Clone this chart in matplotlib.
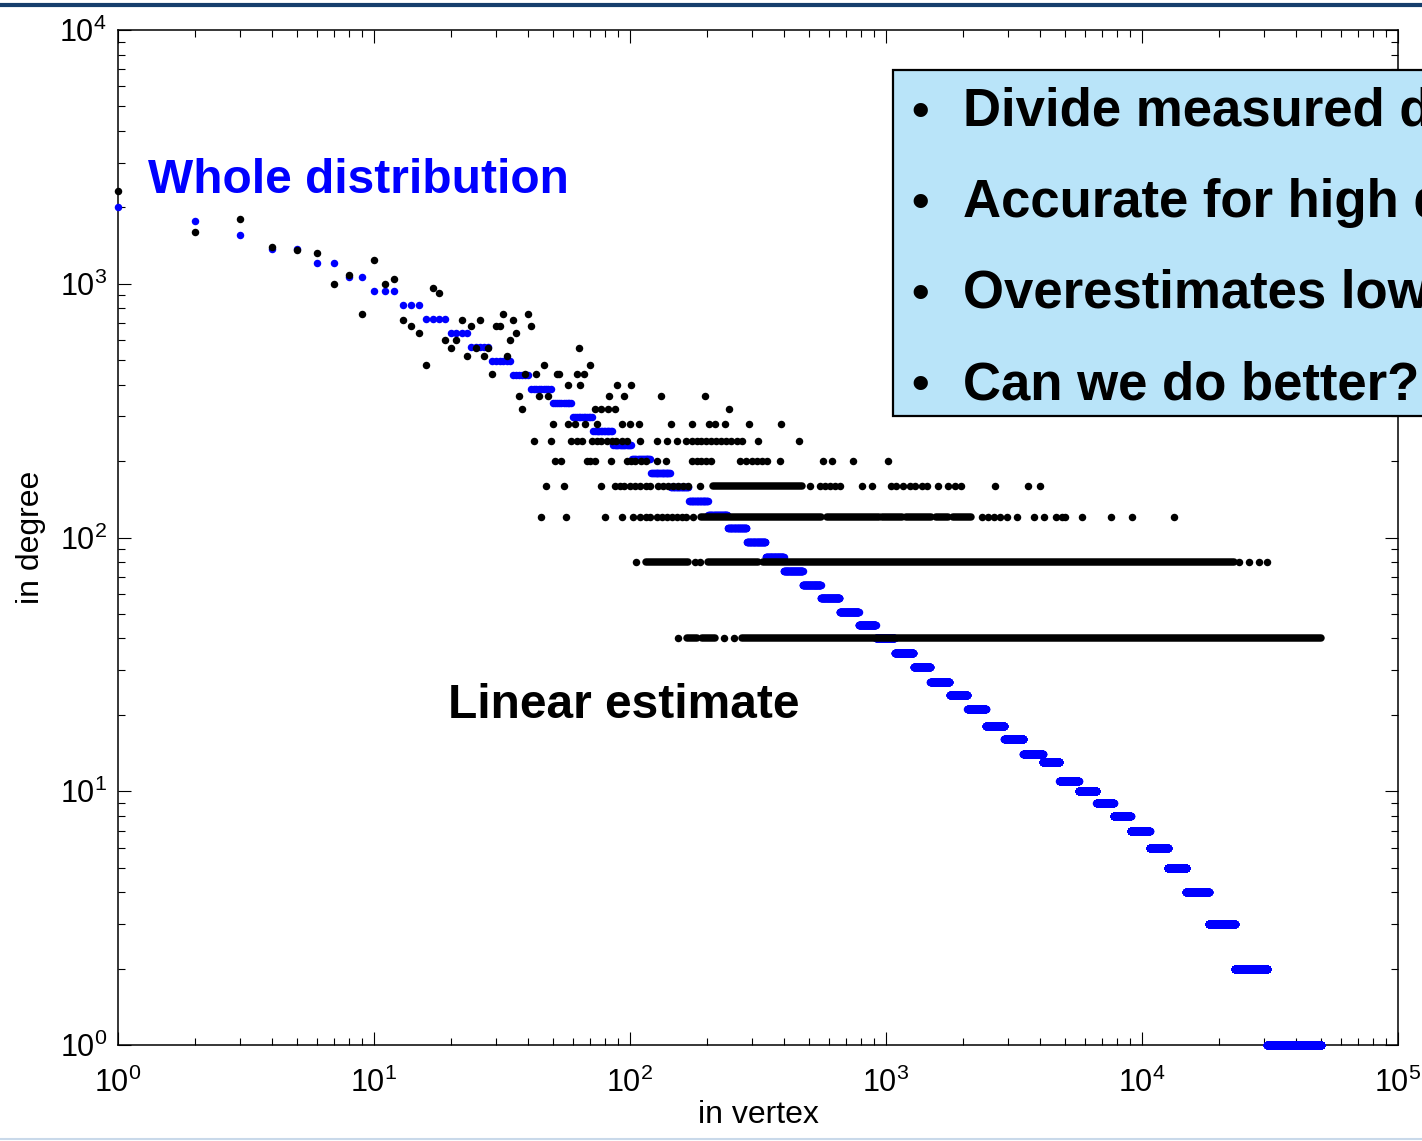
import numpy as np
import matplotlib
matplotlib.use('Agg')
import matplotlib.pyplot as plt
from matplotlib.patches import Rectangle
from matplotlib.lines import Line2D

plt.rcParams['font.family'] = ['Liberation Sans', 'DejaVu Sans']
plt.rcParams['mathtext.fontset'] = 'custom'
plt.rcParams['mathtext.rm'] = 'Liberation Sans'
plt.rcParams['mathtext.default'] = 'regular'

# whole distribution: binned in degree, last vertex rank of each bin
whole_degree = [2005, 1767, 1556, 1371, 1204, 1063, 936, 824, 726, 640,
                563, 496, 437, 385, 339, 298, 263, 231, 204, 180,
                158, 139, 123, 109, 96, 84, 74, 65, 58, 51,
                45, 40, 35, 31, 27, 24, 21, 18, 16, 14,
                13, 11, 10, 9, 8, 7, 6, 5, 4, 3, 2, 1]
whole_last_rank = [1, 2, 3, 5, 7, 9, 12, 15, 19, 23,
                   28, 34, 40, 49, 59, 71, 85, 101, 120, 143,
                   169, 201, 240, 285, 338, 398, 472, 555, 658, 781,
                   910, 1080, 1280, 1490, 1770, 2080, 2450, 2900, 3440, 4090,
                   4760, 5650, 6640, 7740, 9020, 10700, 12600, 14900, 18200, 23000,
                   30900, 50000]

# linear estimate (sample count x 40): isolated vertices per level
est_level = [2320, 1800, 1600, 1400, 1360, 1320, 1240, 1080, 1040, 1000,
             960, 920, 760, 720, 680, 640, 600, 560, 520, 480,
             440, 400, 360, 320, 280, 240, 200, 160, 120, 80, 40]
est_ranks = [
    [1], [3], [2], [4], [5], [6], [10], [8], [12], [7, 11],
    [17], [18], [9, 32, 40], [13, 22, 26, 35], [14, 24, 30, 31, 41],
    [15, 36], [19, 21, 34], [20, 25, 28, 63], [23, 27, 33], [16, 46, 70],
    [29, 39, 43, 52, 53, 62, 66],
    [57, 64, 89, 101],
    [37, 44, 48, 83, 95, 132, 197],
    [38, 73, 77, 82, 87, 244],
    [50, 57, 61, 67, 74, 93, 100, 108, 145, 174, 203, 215, 234, 292, 389],
    [42, 49, 59, 62, 65, 71, 74, 77, 81, 85, 88, 93, 97, 109, 127, 139,
     152, 166, 174, 182, 190, 198, 207, 217, 227, 238, 249, 261, 273, 315, 457],
    [51, 54, 68, 70, 73, 84, 97, 101, 105, 110, 115, 128, 138, 174, 182,
     190, 198, 207, 270, 283, 300, 313, 328, 342, 386, 567, 615, 740, 1015],
    [47, 55, 77, 87, 91, 95, 100, 105, 109, 115, 120, 129, 135, 141, 147,
     154, 161, 169, 188, 505, 552, 578, 604, 632, 661, 805, 878, 1050, 1099,
     1170, 1241, 1298, 1380, 1445, 1602, 1748, 1855, 1970, 2667, 3597, 3998],
    [45, 56, 80, 93, 103, 109, 115, 120, 127, 133, 139, 146, 152, 159, 166,
     176, 2371, 2500, 2641, 2795, 2970, 3249, 3788, 4143, 4615, 4870, 5000,
     5834, 7568, 9141, 13335],
    [106, 180, 188, 24000, 26200, 28650, 30800],
    [154, 233, 255],
]

# linear estimate: stretches of consecutive vertices on the same level
run_level = [160, 120, 120, 120, 120, 120, 120, 80, 80, 80, 40, 40, 40]
run_first = [211, 189, 589, 965, 1197, 1568, 1828, 115, 202, 331, 167, 191, 274]
run_last = [470, 557, 939, 1155, 1500, 1746, 2148, 169, 316, 22900, 183, 215, 50000]

fig = plt.figure(figsize=(14.22, 11.41), dpi=100)
ax = fig.add_axes([118/1422, 96/1141, 1280/1422, 1015/1141])

first = 1
for d, last in zip(whole_degree, whole_last_rank):
    r = np.arange(first, last + 1)
    ax.plot(r, np.full(r.size, d), 'o', color='#0000ff', ms=5.4, mec='none',
            clip_on=False, zorder=3)
    first = last + 1

for d, lo, hi in zip(run_level, run_first, run_last):
    ax.plot([lo, hi], [d, d], '-', color='black', lw=5.4,
            solid_capstyle='round', clip_on=False, zorder=4)
for d, ranks in zip(est_level, est_ranks):
    ax.plot(ranks, [d] * len(ranks), 'o', color='black', ms=5.4, mec='none',
            clip_on=False, zorder=4)

ax.set_xscale('log')
ax.set_yscale('log')
ax.set_xlim(1, 1e5)
ax.set_ylim(1, 1e4)
ax.tick_params(which='both', direction='in', top=True, right=True,
               width=0.8, labelsize=22)
ax.tick_params(which='major', length=9.5)
ax.tick_params(which='minor', length=5)
ax.tick_params(axis='y', pad=8)
ax.tick_params(axis='x', pad=16)
for s in ax.spines.values():
    s.set_linewidth(1.1)

ax.set_xlabel('in vertex', fontsize=23, labelpad=1)
ax.set_ylabel('in degree', fontsize=23, labelpad=10)

fig.text(148/1422, 1 - 193/1141, 'Whole distribution', color='#0000ff',
         fontsize=34.5, fontweight='bold', va='baseline')
fig.text(448/1422, 1 - 718/1141, 'Linear estimate', color='black',
         fontsize=34.5, fontweight='bold', va='baseline')

# note box running off the right edge
fig.patches.append(Rectangle((893/1422, 1 - 416/1141), 600/1422, 346/1141,
                             transform=fig.transFigure, facecolor='#b9e4f9',
                             edgecolor='black', lw=1.6, zorder=5))
notes = ['Divide measured degree by sampling rate',
         'Accurate for high degree vertices',
         'Overestimates low degree vertices',
         'Can we do better?']
for i, line in enumerate(notes):
    y = 1 - (126 + i * 91) / 1141
    fig.text(920/1422, y, '\u2022', fontsize=36, fontweight='bold',
             ha='center', va='baseline', zorder=6)
    fig.text(963/1422, y, line, fontsize=38, fontweight='bold',
             va='baseline', zorder=6)

fig.add_artist(Line2D([0, 1], [1 - 4.5/1141] * 2, color='#163e6c', lw=3))
fig.add_artist(Line2D([0, 1], [1 - 1138.5/1141] * 2, color='#c9d9ea', lw=1.5))

fig.savefig('out.png', dpi=100)
